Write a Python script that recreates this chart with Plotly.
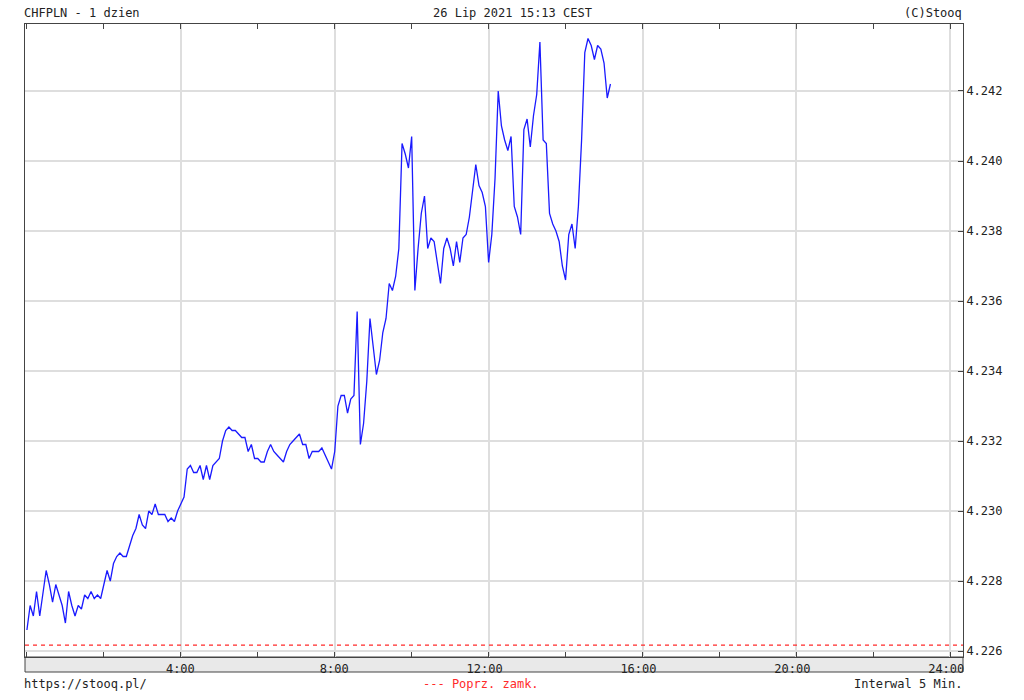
import plotly.graph_objects as go

# CHFPLN intraday, 5-minute interval
prices = [
    4.2266, 4.2273, 4.2270, 4.2277, 4.2270, 4.2276, 4.2283, 4.2279, 4.2274, 4.2279,
    4.2276, 4.2273, 4.2268, 4.2277, 4.2273, 4.2270, 4.2273, 4.2272, 4.2276, 4.2275,
    4.2277, 4.2275, 4.2276, 4.2275, 4.2279, 4.2283, 4.2280, 4.2285, 4.2287, 4.2288,
    4.2287, 4.2287, 4.2290, 4.2293, 4.2295, 4.2299, 4.2296, 4.2295, 4.2300, 4.2299,
    4.2302, 4.2299, 4.2299, 4.2299, 4.2297, 4.2298, 4.2297, 4.2300, 4.2302, 4.2304,
    4.2312, 4.2313, 4.2311, 4.2311, 4.2313, 4.2309, 4.2313, 4.2309, 4.2313, 4.2314,
    4.2315, 4.2320, 4.2323, 4.2324, 4.2323, 4.2323, 4.2322, 4.2321, 4.2321, 4.2317,
    4.2319, 4.2315, 4.2315, 4.2314, 4.2314, 4.2317, 4.2319, 4.2317, 4.2316, 4.2315,
    4.2314, 4.2317, 4.2319, 4.2320, 4.2321, 4.2322, 4.2319, 4.2319, 4.2315, 4.2317,
    4.2317, 4.2317, 4.2318, 4.2316, 4.2314, 4.2312, 4.2317, 4.2330, 4.2333, 4.2333,
    4.2328, 4.2332, 4.2333, 4.2357, 4.2319, 4.2325, 4.2337, 4.2355, 4.2347, 4.2339,
    4.2343, 4.2351, 4.2355, 4.2365, 4.2363, 4.2367, 4.2375, 4.2405, 4.2402, 4.2398,
    4.2407, 4.2363, 4.2375, 4.2385, 4.2390, 4.2375, 4.2378, 4.2377, 4.2371, 4.2365,
    4.2375, 4.2378, 4.2375, 4.2370, 4.2377, 4.2371, 4.2378, 4.2379, 4.2384, 4.2392,
    4.2399, 4.2393, 4.2391, 4.2387, 4.2371, 4.2379, 4.2395, 4.2420, 4.2410, 4.2406,
    4.2403, 4.2407, 4.2387, 4.2384, 4.2379, 4.2409, 4.2412, 4.2404, 4.2413, 4.2419,
    4.2434, 4.2406, 4.2405, 4.2385, 4.2382, 4.2380, 4.2377, 4.2370, 4.2366, 4.2379,
    4.2382, 4.2375, 4.2387, 4.2406, 4.2431, 4.2435, 4.2433, 4.2429, 4.2433, 4.2432,
    4.2428, 4.2418, 4.2422,
]
interval_minutes = 5
hours = [i * interval_minutes / 60 for i in range(len(prices))]

prev_close = 4.22617

x_tick_vals = [4, 8, 12, 16, 20, 24]
x_tick_text = ["4:00", "8:00", "12:00", "16:00", "20:00", "24:00"]
x_minor_vals = [0, 2, 6, 10, 14, 18, 22]
y_tick_vals = [4.226, 4.228, 4.230, 4.232, 4.234, 4.236, 4.238, 4.240, 4.242]

title_left = "CHFPLN - 1 dzien"
title_center = "26 Lip 2021 15:13 CEST"
title_right = "(C)Stooq"
foot_left = "https://stooq.pl/"
foot_center = "--- Poprz. zamk."
foot_right = "Interwal 5 Min."

FONT = "DejaVu Sans Mono"
X_MIN, X_MAX = -0.05, 24.33
Y_MIN, Y_MAX = 4.225829, 4.243914

fig = go.Figure()
fig.add_trace(go.Scatter(
    x=[X_MIN, X_MAX], y=[prev_close, prev_close], mode="lines",
    line=dict(color="#ff2a2a", width=1.3, dash="4px,4px"), hoverinfo="skip",
    showlegend=False,
))
fig.add_trace(go.Scatter(
    x=hours, y=prices, mode="lines",
    line=dict(color="#1a1aff", width=1.3), showlegend=False,
))

W, H = 1024, 700
L, R, T, B = 25, 61, 24, 43
pw, ph = W - L - R, H - T - B

def px_x(p):
    return (p - L) / pw

def px_y(p):
    return (H - B - p) / ph

txt = dict(family=FONT, size=12, color="#222222")
ann = [
    dict(text=title_left, x=px_x(22), y=px_y(13), xanchor="left", yanchor="middle", font=txt),
    dict(text=title_center, x=px_x(512), y=px_y(13), xanchor="center", yanchor="middle", font=txt),
    dict(text=title_right, x=px_x(964), y=px_y(13), xanchor="right", yanchor="middle", font=txt),
    dict(text=foot_left, x=px_x(22), y=px_y(684), xanchor="left", yanchor="middle", font=txt),
    dict(text=foot_center, x=px_x(481), y=px_y(684), xanchor="center", yanchor="middle",
         font=dict(family=FONT, size=12, color="#ff2a2a")),
    dict(text=foot_right, x=px_x(964), y=px_y(684), xanchor="right", yanchor="middle", font=txt),
]
for a in ann:
    a.update(xref="paper", yref="paper", showarrow=False)

fig.update_layout(
    width=W, height=H,
    margin=dict(l=L, r=R, t=T, b=B, pad=0),
    paper_bgcolor="white", plot_bgcolor="white",
    annotations=ann,
    shapes=[dict(type="rect", xref="paper", yref="paper", x0=0, x1=1,
                 y0=-15 / ph, y1=0, fillcolor="#e9e9e9",
                 line=dict(color="#444444", width=1), layer="below")],
)
fig.update_xaxes(
    range=[X_MIN, X_MAX], tickvals=x_tick_vals, ticktext=x_tick_text,
    ticks="inside", ticklen=5, tickcolor="#444444",
    ticklabelposition="outside left", ticklabelshift=15, ticklabelstandoff=1,
    showgrid=True, gridcolor="#dedede", gridwidth=1.5,
    showline=True, linecolor="#444444", linewidth=1, mirror="ticks",
    minor=dict(tickvals=x_minor_vals, ticks="inside", ticklen=5, tickcolor="#444444", showgrid=False),
    tickfont=dict(family=FONT, size=12, color="#222222"), zeroline=False,
)
fig.update_yaxes(
    range=[Y_MIN, Y_MAX], tickvals=y_tick_vals, tickformat=".3f", side="right",
    ticks="inside", ticklen=5, tickcolor="#444444",
    showgrid=True, gridcolor="#dedede", gridwidth=1.5,
    showline=True, linecolor="#444444", linewidth=1, mirror=True,
    tickfont=dict(family=FONT, size=12, color="#222222"), zeroline=False,
)

fig.write_html("out.html", config={"displayModeBar": False},
               post_script="document.body.style.margin='0';")
